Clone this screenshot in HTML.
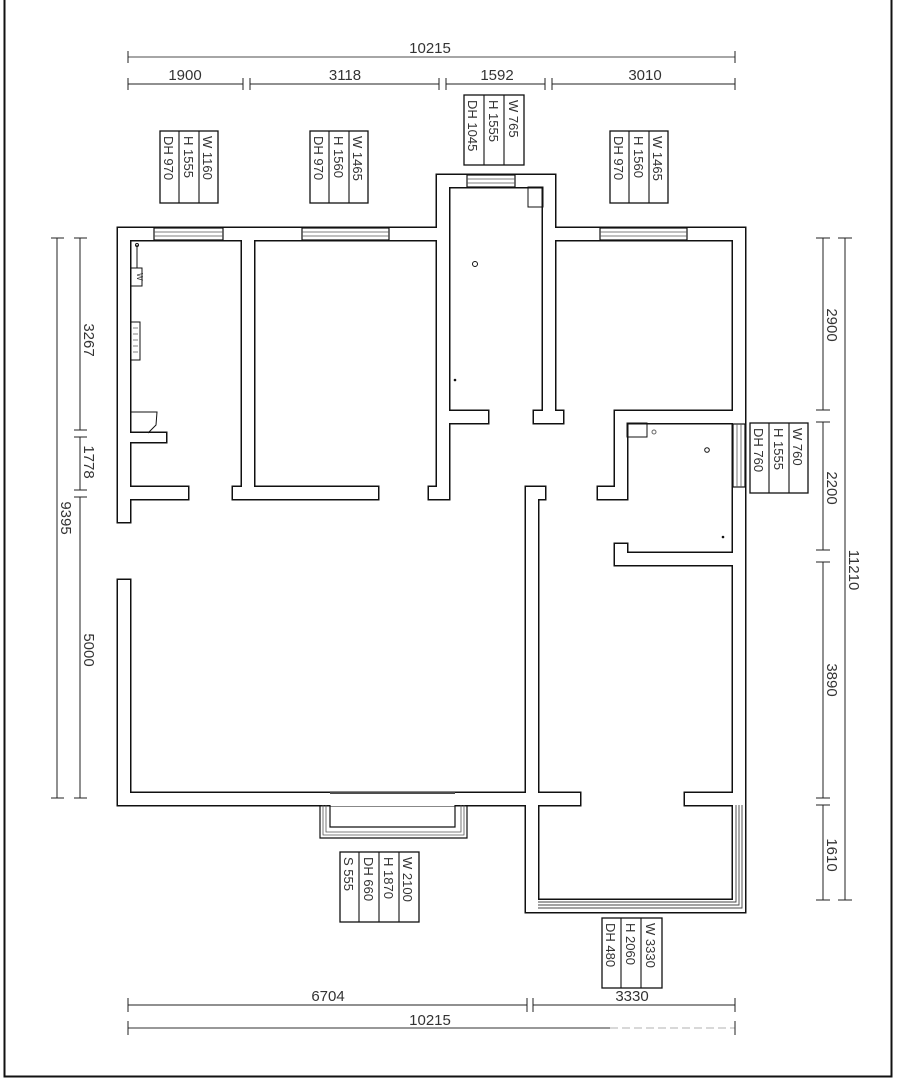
<!DOCTYPE html>
<html><head><meta charset="utf-8"><style>
html,body{margin:0;padding:0;background:#fff}
svg{display:block}
text{font-family:"Liberation Sans",sans-serif;fill:#333}
</style></head><body>
<svg width="897" height="1080" viewBox="0 0 897 1080" xmlns="http://www.w3.org/2000/svg">
<defs>
<g id="w">
<rect x="118" y="228" width="331" height="12"/>
<rect x="118" y="228" width="12" height="294"/>
<rect x="118" y="580" width="12" height="225"/>
<rect x="118" y="793" width="420" height="12"/>
<rect x="242" y="240" width="12" height="259"/>
<rect x="233" y="487" width="145" height="12"/>
<rect x="130" y="487" width="58" height="12"/>
<rect x="130" y="433" width="36" height="9"/>
<rect x="437" y="175" width="12" height="324"/>
<rect x="429" y="487" width="20" height="12"/>
<rect x="449" y="411" width="39" height="12"/>
<rect x="437" y="175" width="118" height="12"/>
<rect x="543" y="175" width="12" height="248"/>
<rect x="534" y="411" width="29" height="12"/>
<rect x="555" y="228" width="190" height="12"/>
<rect x="733" y="228" width="12" height="577"/>
<rect x="615" y="411" width="118" height="12"/>
<rect x="615" y="411" width="12" height="88"/>
<rect x="598" y="487" width="29" height="12"/>
<rect x="615" y="553" width="118" height="12"/>
<rect x="615" y="544" width="12" height="21"/>
<rect x="526" y="487" width="12" height="425"/>
<rect x="526" y="487" width="19" height="12"/>
<rect x="526" y="793" width="54" height="12"/>
<rect x="685" y="793" width="60" height="12"/>
<rect x="526" y="900" width="219" height="12"/>
<rect x="733" y="805" width="12" height="107"/>
</g>
</defs>
<path d="M4.5 0 V1076.5 H891.5 V0" fill="none" stroke="#111" stroke-width="2"/>
<use href="#w" fill="#111" stroke="#111" stroke-width="3"/>
<use href="#w" fill="#fff" stroke="none"/>
<g fill="#fff" stroke="#111" stroke-width="1.2">
<rect x="154" y="228" width="69" height="12"/>
<rect x="302" y="228" width="87" height="12"/>
<rect x="467" y="175" width="48" height="12"/>
<rect x="600" y="228" width="87" height="12"/>
<rect x="733" y="424" width="12" height="63"/>
</g>
<g stroke="#555" stroke-width="0.8">
<line x1="154" y1="232" x2="223" y2="232"/><line x1="154" y1="236" x2="223" y2="236"/>
<line x1="302" y1="232" x2="389" y2="232"/><line x1="302" y1="236" x2="389" y2="236"/>
<line x1="467" y1="179" x2="515" y2="179"/><line x1="467" y1="183" x2="515" y2="183"/>
<line x1="600" y1="232" x2="687" y2="232"/><line x1="600" y1="236" x2="687" y2="236"/>
<line x1="737" y1="424" x2="737" y2="487"/><line x1="741" y1="424" x2="741" y2="487"/>
</g>
<g fill="none" stroke="#444" stroke-width="0.9">
<path d="M736 805 V902 H538"/><path d="M739 805 V905 H538"/><path d="M742 805 V908 H538"/>
</g>
<rect x="330" y="792" width="125" height="14" fill="#fff"/>
<g fill="none" stroke="#111" stroke-width="1.2">
<path d="M330 805 V827 H455 V805"/>
<path d="M320 805 V838 H467 V805"/>
</g>
<g fill="none" stroke="#555" stroke-width="0.8">
<path d="M323 805 V835 H464 V805"/><path d="M326 805 V832 H461 V805"/>
</g>
<line x1="330" y1="793" x2="455" y2="793" stroke="#111" stroke-width="1.5"/>
<g fill="none" stroke="#111" stroke-width="1">
<rect x="528" y="187" width="15" height="20"/>
<rect x="627" y="423" width="20" height="14"/>
<circle cx="475" cy="264" r="2.5"/>
<circle cx="707" cy="450" r="2.3"/>
<circle cx="654" cy="432" r="2" stroke="#666"/>
<line x1="137" y1="245" x2="137" y2="268"/>
<circle cx="137" cy="245" r="1.5"/>
<rect x="131" y="268" width="11" height="18"/>
<rect x="131" y="322" width="9" height="38"/>
<path d="M131 412 H157 L156 425 L148 433"/>
<line x1="131" y1="412" x2="131" y2="433"/>
</g>
<text x="132" y="276" font-size="8" transform="rotate(90 136 277)">W</text>
<g stroke="#333" stroke-width="0.6"><line x1="133" y1="328" x2="138" y2="328"/><line x1="133" y1="334" x2="138" y2="334"/><line x1="133" y1="340" x2="138" y2="340"/><line x1="133" y1="346" x2="138" y2="346"/><line x1="133" y1="352" x2="138" y2="352"/></g>
<circle cx="455" cy="380" r="1.3" fill="#111"/>
<circle cx="723" cy="537" r="1.3" fill="#111"/>

<g stroke="#222" stroke-width="1" fill="none">
<line x1="128" y1="57" x2="735" y2="57" stroke="#888" stroke-width="1.5"/>
<line x1="128" y1="51" x2="128" y2="63"/><line x1="735" y1="51" x2="735" y2="63"/>
<line x1="128" y1="84" x2="243" y2="84"/><line x1="250" y1="84" x2="439" y2="84"/>
<line x1="446" y1="84" x2="545" y2="84"/><line x1="552" y1="84" x2="735" y2="84"/>
<path d="M128 78V90M243 78V90M250 78V90M439 78V90M446 78V90M545 78V90M552 78V90M735 78V90"/>
<line x1="128" y1="1005" x2="527" y2="1005"/><line x1="533" y1="1005" x2="735" y2="1005"/>
<path d="M128 998V1012M527 998V1012M533 998V1012M735 998V1012"/>
<line x1="128" y1="1028" x2="610" y2="1028" stroke="#777" stroke-width="1.5"/>
<line x1="610" y1="1028" x2="735" y2="1028" stroke="#ccc" stroke-width="1.5" stroke-dasharray="8 4"/>
<path d="M128 1021V1035M735 1021V1035"/>
<line x1="57" y1="238" x2="57" y2="798"/>
<path d="M51 238H64M51 798H64"/>
<line x1="80" y1="238" x2="80" y2="430"/><line x1="80" y1="437" x2="80" y2="490"/><line x1="80" y1="497" x2="80" y2="798"/>
<path d="M74 238H87M74 430H87M74 437H87M74 490H87M74 497H87M74 798H87"/>
<line x1="823" y1="238" x2="823" y2="410"/><line x1="823" y1="422" x2="823" y2="550"/>
<line x1="823" y1="562" x2="823" y2="798"/><line x1="823" y1="805" x2="823" y2="900"/>
<path d="M816 238H830M816 410H830M816 422H830M816 550H830M816 562H830M816 798H830M816 805H830M816 900H830"/>
<line x1="845" y1="238" x2="845" y2="900"/>
<path d="M838 238H852M838 900H852"/>
</g>
<g font-size="15" text-anchor="middle" style="fill:#555">
<text x="430" y="53">10215</text>
<text x="185" y="80">1900</text>
<text x="345" y="80">3118</text>
<text x="497" y="80">1592</text>
<text x="645" y="80">3010</text>
<text x="328" y="1001">6704</text>
<text x="632" y="1001">3330</text>
<text x="430" y="1025">10215</text>
<text transform="translate(84 340) rotate(90)">3267</text>
<text transform="translate(84 462) rotate(90)">1778</text>
<text transform="translate(84 650) rotate(90)">5000</text>
<text transform="translate(61 518) rotate(90)">9395</text>
<text transform="translate(827 325) rotate(90)">2900</text>
<text transform="translate(827 488) rotate(90)">2200</text>
<text transform="translate(827 680) rotate(90)">3890</text>
<text transform="translate(827 855) rotate(90)">1610</text>
<text transform="translate(849 570) rotate(90)">11210</text>
</g>

<g fill="#fff" stroke="#111" stroke-width="1.3">
<rect x="160" y="131" width="58" height="72"/>
<rect x="310" y="131" width="58" height="72"/>
<rect x="464" y="95" width="60" height="70"/>
<rect x="610" y="131" width="58" height="72"/>
<rect x="750" y="423" width="58" height="70"/>
<rect x="340" y="852" width="79" height="70"/>
<rect x="602" y="918" width="60" height="70"/>
</g>
<g stroke="#111" stroke-width="1.1">
<path d="M179 131V203M199 131V203"/>
<path d="M329 131V203M349 131V203"/>
<path d="M484 95V165M504 95V165"/>
<path d="M629 131V203M649 131V203"/>
<path d="M769 423V493M789 423V493"/>
<path d="M359 852V922M379 852V922M399 852V922"/>
<path d="M621 918V988M641 918V988"/>
</g>
<g font-size="13" style="fill:#111">
<text transform="translate(164 136) rotate(90)">DH  970</text>
<text transform="translate(184 136) rotate(90)">H  1555</text>
<text transform="translate(203 136) rotate(90)">W  1160</text>
<text transform="translate(314 136) rotate(90)">DH  970</text>
<text transform="translate(334 136) rotate(90)">H  1560</text>
<text transform="translate(353 136) rotate(90)">W  1465</text>
<text transform="translate(468 100) rotate(90)">DH  1045</text>
<text transform="translate(489 100) rotate(90)">H  1555</text>
<text transform="translate(509 100) rotate(90)">W  765</text>
<text transform="translate(614 136) rotate(90)">DH  970</text>
<text transform="translate(634 136) rotate(90)">H  1560</text>
<text transform="translate(653 136) rotate(90)">W  1465</text>
<text transform="translate(754 428) rotate(90)">DH  760</text>
<text transform="translate(774 428) rotate(90)">H  1555</text>
<text transform="translate(793 428) rotate(90)">W  760</text>
<text transform="translate(344 857) rotate(90)">S  555</text>
<text transform="translate(364 857) rotate(90)">DH  660</text>
<text transform="translate(384 857) rotate(90)">H  1870</text>
<text transform="translate(403 857) rotate(90)">W  2100</text>
<text transform="translate(606 923) rotate(90)">DH  480</text>
<text transform="translate(626 923) rotate(90)">H  2060</text>
<text transform="translate(646 923) rotate(90)">W  3330</text>
</g>
</svg>
</body></html>
